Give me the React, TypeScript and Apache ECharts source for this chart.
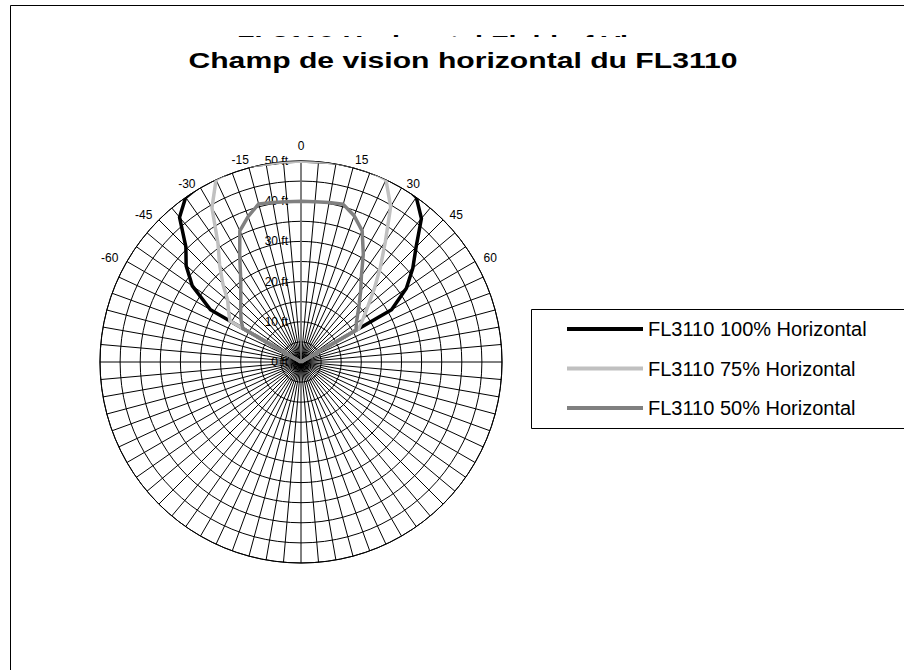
import React, { useEffect, useRef } from 'react';
import * as echarts from 'echarts';

// Angles in degrees (0 = straight ahead, negative = left)
const angles = [-65, -60, -55, -50, -45, -40, -35, -30, -25, -20, -15, -10, -5, 0, 5, 10, 15, 20, 25, 30, 35, 40, 45, 50, 55, 60, 65];
// Detection distance in feet
const full100 = [0, 26, 33, 37.3, 40.5, 47, 50, 50.5, 50.8, 50.8, 50.5, 50, 50, 50, 50, 50.3, 50.5, 50.6, 51, 51, 50, 46.6, 40.5, 36.3, 32, 26, 0];
const pct75 = [0, 20.4, 22, 23.8, 27.5, 31.5, 36, 44.3, 50, 50.8, 50.5, 50, 50, 50, 50, 50.3, 50.5, 50.5, 50, 44.6, 36.6, 30.7, 25.8, 21.8, 18.9, 16.6, 0];
const pct50 = [0, 16.7, 18.2, 19.6, 21.2, 23.3, 26.2, 30.5, 36, 38.5, 40.7, 40.3, 40, 40, 40, 40.3, 40.6, 38.7, 36, 31, 26.2, 23.1, 20.5, 18.4, 16.8, 15.8, 0];

const seriesNames = ['FL3110 100% Horizontal', 'FL3110 75% Horizontal', 'FL3110 50% Horizontal'];
const seriesColors = ['#000000', '#c0c0c0', '#808080'];
const angleLabels = [-60, -45, -30, -15, 0, 15, 30, 45, 60];
const radiusLabels = [0, 10, 20, 30, 40, 50];
const titleFr = 'Champ de vision horizontal du FL3110';
const titleEn = 'FL3110 Horizontal Field of View';

const FONT = '"Liberation Sans", Arial, Helvetica, sans-serif';

function toPolar(vals: number[]) {
  return vals.map((r, i) => [r, angles[i] < 0 ? angles[i] + 360 : angles[i]]);
}

// label nudges (padding) per absolute angle: [outer-side padding, bottom padding]
const nudge: Record<number, [number, number]> = { 0: [0, 14], 15: [20, 7], 30: [7.5, 2], 45: [10, 2.5], 60: [12.8, 0] };

function buildRich() {
  const rich: Record<string, any> = {};
  angleLabels.forEach((a) => {
    const [side, bottom] = nudge[Math.abs(a)];
    const key = a < 0 ? 'm' + Math.abs(a) : 'p' + a;
    rich[key] = {
      fontSize: 12,
      fontFamily: FONT,
      color: '#000',
      padding: a < 0 ? [0, side, bottom, 0] : [0, 0, bottom, side],
    };
  });
  return rich;
}

export default function App() {
  const ref = useRef<HTMLDivElement>(null);
  useEffect(() => {
    if (!ref.current) return;
    const chart = echarts.init(ref.current, null, { renderer: 'svg' });
    const dataSets = [full100, pct75, pct50];
    chart.setOption({
      animation: false,
      backgroundColor: '#ffffff',
      polar: { center: [301, 362], radius: 201 },
      angleAxis: {
        type: 'value',
        min: 0,
        max: 360,
        interval: 5,
        startAngle: 90,
        clockwise: true,
        axisLine: { show: true, lineStyle: { color: '#000', width: 1 } },
        axisTick: { show: false },
        splitLine: { show: true, lineStyle: { color: '#000', width: 1 } },
        axisLabel: {
          margin: -5,
          fontSize: 12,
          color: '#000',
          fontFamily: FONT,
          formatter: (v: number) => {
            const a = v > 180 ? v - 360 : v;
            if (!(v < 360 && angleLabels.includes(a))) return '';
            const key = a < 0 ? 'm' + Math.abs(a) : 'p' + a;
            return '{' + key + '|' + a + '}';
          },
          rich: buildRich(),
        },
      },
      radiusAxis: {
        type: 'value',
        min: 0,
        max: 50,
        interval: 5,
        axisLine: { show: true, lineStyle: { color: '#808080', width: 1.5 } },
        axisTick: { show: false },
        splitLine: { show: true, lineStyle: { color: '#000', width: 1 } },
        axisLabel: {
          margin: 13,
          fontSize: 12,
          color: '#000',
          fontFamily: FONT,
          formatter: (v: number) => (radiusLabels.includes(v) ? v + ' ft' : ''),
        },
      },
      legend: {
        orient: 'vertical',
        left: 567,
        top: 319,
        padding: 0,
        itemWidth: 76,
        itemHeight: 4,
        itemGap: 19.5,
        icon: 'rect',
        textStyle: { fontSize: 20, color: '#000', fontFamily: FONT },
        data: seriesNames,
      },
      series: dataSets.map((d, i) => ({
        name: seriesNames[i],
        type: 'line',
        coordinateSystem: 'polar',
        data: toPolar(d),
        showSymbol: false,
        symbol: 'none',
        color: seriesColors[i],
        lineStyle: { color: seriesColors[i], width: 3.5, join: 'round' },
        itemStyle: { color: seriesColors[i] },
        z: 3 + i,
      })),
      graphic: [
        {
          type: 'rect',
          silent: true,
          shape: { x: 10.5, y: 5.5, width: 1000, height: 1000 },
          style: { fill: 'none', stroke: '#000', lineWidth: 1 },
        },
        {
          type: 'rect',
          silent: true,
          shape: { x: 531.5, y: 309.5, width: 500, height: 119 },
          style: { fill: 'none', stroke: '#000', lineWidth: 1 },
        },
        {
          type: 'text',
          silent: true,
          x: 237,
          y: 42,
          scaleX: 1.37,
          style: {
            text: titleEn,
            font: 'bold 21px ' + FONT,
            fill: '#000',
            align: 'left',
            verticalAlign: 'middle',
            textAlign: 'left',
            textVerticalAlign: 'middle',
          },
        },
        {
          type: 'rect',
          silent: true,
          shape: { x: 180, y: 37, width: 700, height: 13.5 },
          style: { fill: '#ffffff', stroke: 'none' },
        },
        {
          type: 'text',
          silent: true,
          x: 463,
          y: 60,
          scaleX: 1.37,
          style: {
            text: titleFr,
            font: 'bold 22px ' + FONT,
            fill: '#000',
            align: 'center',
            verticalAlign: 'middle',
            textAlign: 'center',
            textVerticalAlign: 'middle',
          },
        },
      ],
    });
    return () => chart.dispose();
  }, []);
  return (
    <div
      ref={ref}
      style={{ position: 'fixed', left: 0, top: 0, width: 904, height: 670, background: '#fff' }}
    />
  );
}
